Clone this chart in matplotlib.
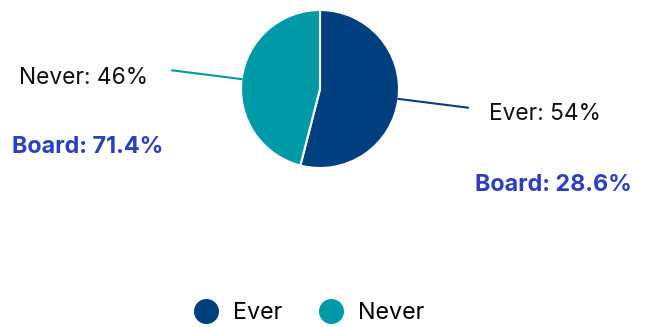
import numpy as np
import matplotlib
matplotlib.use('Agg')
import matplotlib.pyplot as plt
from matplotlib.lines import Line2D

plt.rcParams['font.family'] = ['Inter', 'DejaVu Sans']

labels = ['Ever', 'Never']
shares = [54, 46]
boardShares = ['28.6%', '71.4%']
colors = ['#004080', '#0099A8']
boardColor = '#2B3FC0'

W, H = 647, 327
fig = plt.figure(figsize=(W / 100, H / 100), dpi=100)
ax = fig.add_axes([0, 0, 1, 1])

center = (320, H - 89)
radius = 79
wedges, _ = ax.pie(shares, colors=colors, startangle=90, counterclock=False,
                   center=center, radius=radius, frame=True,
                   wedgeprops={'edgecolor': 'white', 'linewidth': 1.5})
ax.set_xlim(0, W)
ax.set_ylim(0, H)
ax.set_aspect('equal')
ax.axis('off')

# leader lines + labels
textSpots = {
    'Ever': {'xy': (489, H - 114), 'ha': 'left', 'board': (632, H - 185)},
    'Never': {'xy': (148, H - 78), 'ha': 'right', 'board': (163, H - 147)},
}
for wedge, label, share, board, color in zip(wedges, labels, shares, boardShares, colors):
    mid = np.deg2rad((wedge.theta1 + wedge.theta2) / 2)
    x0 = center[0] + radius * np.cos(mid)
    y0 = center[1] + radius * np.sin(mid)
    x1 = center[0] + (radius + 70) * np.cos(mid)
    y1 = center[1] + (radius + 70) * np.sin(mid)
    ax.plot([x0, x1], [y0, y1], color=color, linewidth=1.5)
    spot = textSpots[label]
    ax.text(spot['xy'][0], spot['xy'][1], f'{label}: {share}%', ha=spot['ha'],
            va='center', fontsize=16.4, color='#111111')
    ax.text(spot['board'][0], spot['board'][1], f'Board: {board}', ha='right',
            va='center', fontsize=16.8, fontweight='bold', color=boardColor)

handles = [Line2D([], [], marker='o', linestyle='none', markersize=17,
                  markerfacecolor=c, markeredgecolor=c) for c in colors]
fig.legend(handles, labels, loc='center', bbox_to_anchor=(309 / W, 1 - 313 / H),
           ncol=2, frameon=False, fontsize=16.8, handletextpad=0.6,
           columnspacing=1.55, handlelength=1.1)

fig.savefig('out.png', dpi=100)
